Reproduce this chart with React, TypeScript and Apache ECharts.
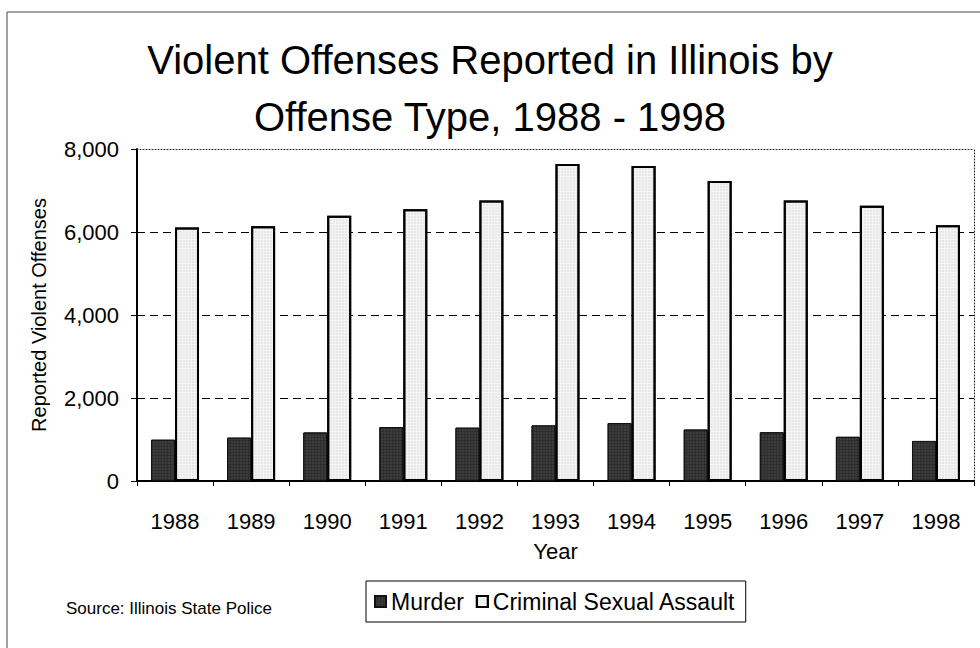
import React, { useEffect, useRef } from "react";
import * as echarts from "echarts";

const years = ["1988", "1989", "1990", "1991", "1992", "1993", "1994", "1995", "1996", "1997", "1998"];
const murder = [995, 1045, 1170, 1300, 1285, 1340, 1395, 1240, 1175, 1065, 965];
const sexualAssault = [6110, 6140, 6390, 6550, 6760, 7640, 7590, 7230, 6760, 6630, 6160];
const seriesNames = ["Murder", "Criminal Sexual Assault"];
const titleText = "Violent Offenses Reported in Illinois by\nOffense Type, 1988 - 1998";
const sourceText = "Source: Illinois State Police";

const FONT = "'Liberation Sans', Arial, Helvetica, sans-serif";

export default function App() {
  const ref = useRef<HTMLDivElement>(null);
  useEffect(() => {
    if (!ref.current) return;
    const chart = echarts.init(ref.current, null, { renderer: "svg" });
    chart.setOption({
      animation: false,
      backgroundColor: "#ffffff",
      textStyle: { fontFamily: FONT, color: "#000" },
      title: {
        text: titleText,
        left: "center",
        top: 26,
        textStyle: { fontSize: 40, fontWeight: "normal", color: "#000", lineHeight: 57, fontFamily: FONT },
      },
      legend: {
        data: seriesNames,
        left: 366,
        top: 581,
        orient: "horizontal",
        icon: "rect",
        itemWidth: 11,
        itemHeight: 11,
        itemGap: 12,
        padding: [9, 10, 9, 8],
        borderColor: "#000",
        borderWidth: 1,
        textStyle: { fontSize: 23, color: "#000", fontFamily: FONT },
      },
      grid: { left: 137, right: 6, top: 149, bottom: 167, containLabel: false },
      xAxis: [
        {
          type: "category",
          data: years,
          name: "Year",
          nameLocation: "middle",
          nameGap: 59,
          nameTextStyle: { fontSize: 22, color: "#000", fontFamily: FONT },
          axisLine: { lineStyle: { color: "#000", width: 2 } },
          axisTick: { show: true, alignWithLabel: false, length: 5, lineStyle: { color: "#000", width: 1 } },
          axisLabel: { fontSize: 22, color: "#000", margin: 29, fontFamily: FONT },
        },
        {
          type: "category",
          data: years,
          position: "top",
          axisLine: { show: true, onZero: false, lineStyle: { color: "#222", width: 1, type: [1, 2] } },
          axisTick: { show: false },
          axisLabel: { show: false },
        },
      ],
      yAxis: [
        {
          type: "value",
          min: 0,
          max: 8000,
          interval: 2000,
          name: "Reported Violent Offenses",
          nameLocation: "middle",
          nameGap: 88,
          nameTextStyle: { fontSize: 20, color: "#000", fontFamily: FONT },
          axisLine: { show: true, lineStyle: { color: "#000", width: 2 } },
          axisTick: { show: true, length: 6, lineStyle: { color: "#000", width: 1 } },
          axisLabel: {
            fontSize: 22,
            color: "#000",
            margin: 18,
            fontFamily: FONT,
            formatter: (v: number) => v.toLocaleString("en-US"),
          },
          splitLine: { show: true, showMaxLine: false, lineStyle: { color: "#000", width: 1, type: [8, 5] } },
        },
        {
          type: "value",
          min: 0,
          max: 8000,
          interval: 2000,
          position: "right",
          axisLine: { show: true, onZero: false, lineStyle: { color: "#222", width: 1, type: [1, 2] } },
          axisTick: { show: false },
          axisLabel: { show: false },
          splitLine: { show: false },
        },
      ],
      series: [
        {
          name: seriesNames[0],
          type: "bar",
          data: murder,
          barGap: "0%",
          barCategoryGap: "37%",
          itemStyle: {
            color: "#2e2e2e",
            borderColor: "#111",
            borderWidth: 1,
            decal: {
              symbol: "rect",
              symbolSize: 0.5,
              dashArrayX: [2, 1],
              dashArrayY: [2, 1],
              color: "rgba(255,255,255,0.28)",
            },
          },
        },
        {
          name: seriesNames[1],
          type: "bar",
          data: sexualAssault,
          itemStyle: {
            color: "#f4f4f4",
            borderColor: "#000",
            borderWidth: 2,
            decal: {
              symbol: "rect",
              symbolSize: 0.5,
              dashArrayX: [2, 1],
              dashArrayY: [2, 1],
              color: "rgba(0,0,0,0.22)",
            },
          },
        },
      ],
      graphic: [
        {
          type: "rect",
          silent: true,
          shape: { x: 7, y: 12, width: 1000, height: 700 },
          style: { fill: "none", stroke: "#444", lineWidth: 1 },
          z: -1,
        },
        {
          type: "text",
          x: 66,
          y: 608,
          style: {
            text: sourceText,
            fontSize: 17,
            fontFamily: FONT,
            fill: "#000",
            verticalAlign: "middle",
            align: "left",
          },
        },
      ],
    });
    return () => chart.dispose();
  }, []);
  return <div ref={ref} style={{ position: "fixed", left: 0, top: 0, width: 980, height: 648 }} />;
}
